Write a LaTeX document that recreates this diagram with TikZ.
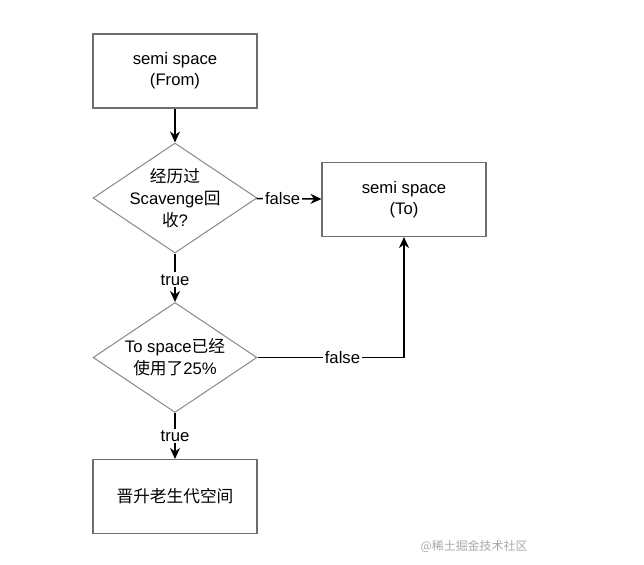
\documentclass[tikz,border=0pt]{standalone}
\usepackage{fontspec}
\setmainfont{Liberation Sans}
\newfontfamily\cjk{Noto Sans CJK SC}
\usetikzlibrary{arrows.meta, positioning, shapes.geometric}
\definecolor{cline}{HTML}{000000}
\definecolor{cframe}{HTML}{6E6E6E}
\definecolor{cdiam}{HTML}{8C8C8C}
\definecolor{cmark}{HTML}{A8A8A8}
\tikzset{
  every picture/.style={font=\fontsize{9.5}{12}\selectfont},
  box/.style={draw=cframe, line width=0.6pt, align=center, minimum width=3.28cm, minimum height=1.48cm, inner sep=2pt},
  decision/.style={diamond, draw=cdiam, line width=0.6pt, minimum width=3.28cm, minimum height=2.2cm, inner sep=0pt},
  asks/.style={align=center, font=\fontsize{9.5}{12.6}\selectfont},
  arrow/.style={-{Stealth[length=2.2mm, width=2mm]}, draw=cline, line width=0.9pt},
  flag/.style={fill=white, inner sep=1pt},
}

\begin{document}
\begin{tikzpicture}[x=0.02cm, y=-0.02cm]
  \useasboundingbox (0,0) rectangle (644,564);
  % the three boxes
  \node[box] (from) at (175,71) {semi space\\(From)};
  \node[box] (to) at (404,199.5) {semi space\\(To)};
  \node[box] (old) at (175,496.5) {\cjk 晋升老生代空间};
  % the two questions
  \node[decision, label={[asks]center:{\cjk 经历过}\\Scavenge{\cjk 回}\\{\cjk 收}?}] (scav) at (175,198) {};
  \node[decision, label={[asks]center:To space{\cjk 已经}\\{\cjk 使用了}25\%}] (full) at (175,357.5) {};
  % connectors
  \draw[arrow] (from) -- (scav);
  \draw[arrow] (scav) -- node[flag, pos=0.4] {false} (to);
  \draw[arrow] (scav) -- node[flag, pos=0.54] {true} (full);
  \draw[arrow] (full) -| node[flag, pos=0.29] {false} (to);
  \draw[arrow] (full) -- node[flag, pos=0.5] {true} (old);
  % watermark
  \node[text=cmark, font=\cjk\fontsize{6.8}{8}\selectfont] (mark) at (474,546) {@稀土掘金技术社区};
\end{tikzpicture}
\end{document}
